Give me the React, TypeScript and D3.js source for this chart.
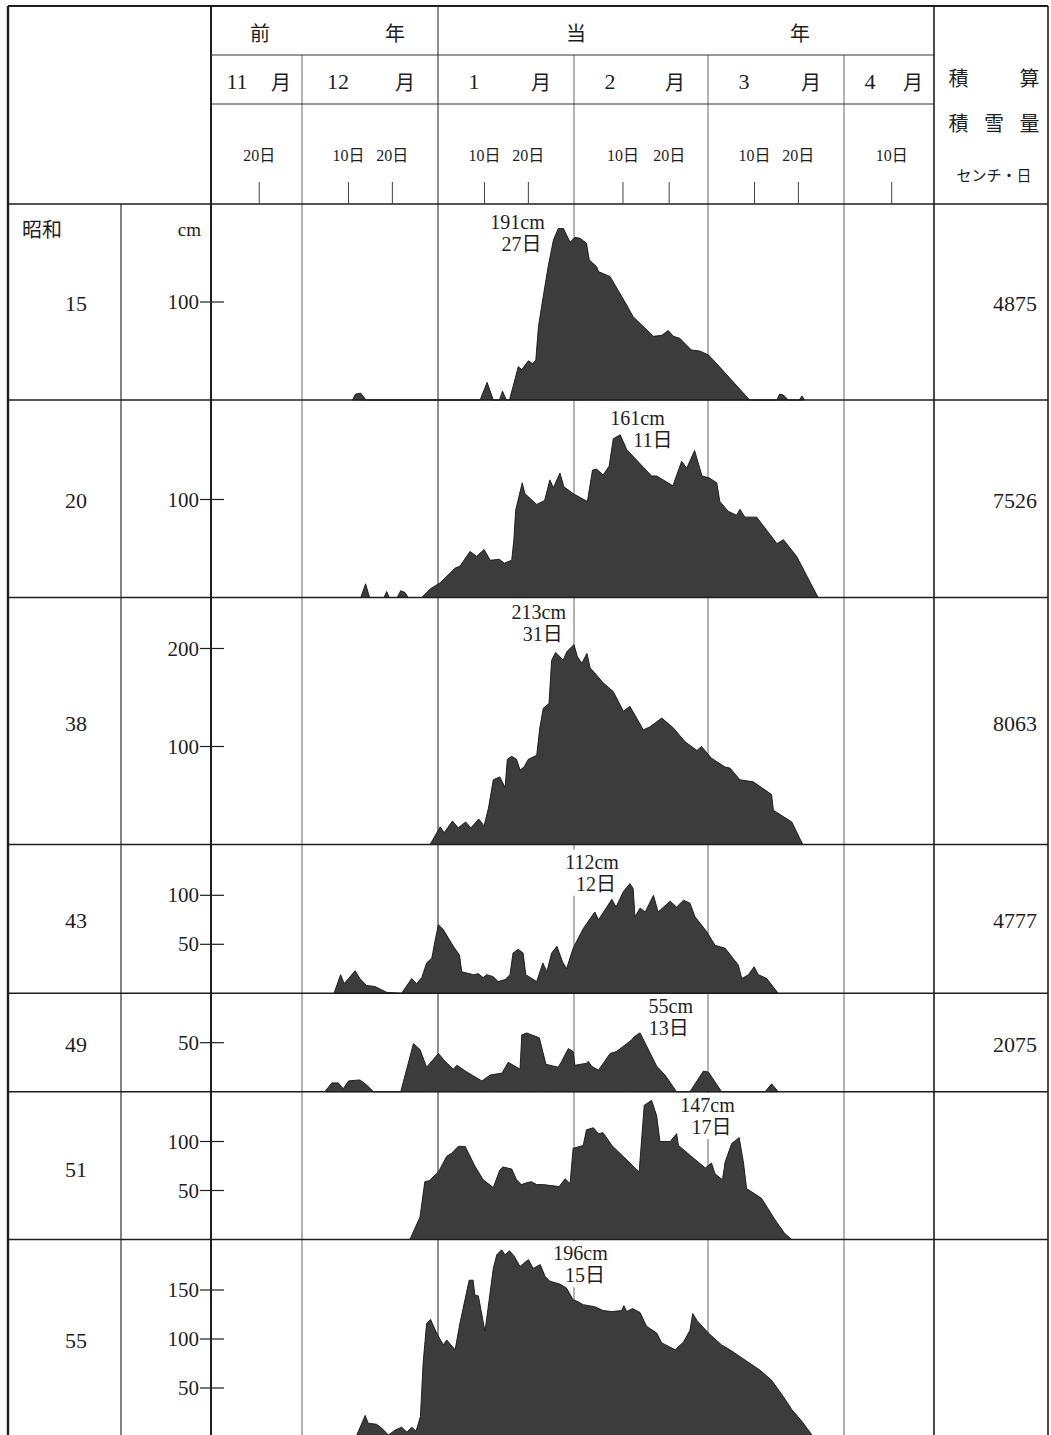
import React from "react";
import * as d3 from "d3";

// ---------- DATA ----------
type Pt = [number, number, number]; // [month, day, snow depth cm]

const showaYears = ["15", "20", "38", "43", "49", "51", "55"];
const totals = ["4875", "7526", "8063", "4777", "2075", "", ""];
const yTicks: number[][] = [[100], [100], [200, 100], [100, 50], [50], [100, 50], [150, 100, 50]];
const peakCm = ["191cm", "161cm", "213cm", "112cm", "55cm", "147cm", "196cm"];
const peakDay = ["27日", "11日", "31日", "12日", "13日", "17日", "15日"];

const monthNums = ["11", "12", "1", "2", "3", "4"];
const dayTicks: [number, number][] = [[11, 20], [12, 10], [12, 20], [1, 10], [1, 20], [2, 10], [2, 20], [3, 10], [3, 20], [4, 10]];
const seasonBreaks: [number, number][] = [[11, 11], [12, 1], [1, 1], [2, 1], [3, 1], [4, 1], [4, 21]];

const s15: Pt[] = [
  [12, 12.5, 0], [12, 13.2, 6], [12, 14.4, 7], [12, 15.6, 0],
  [1, 10.6, 0], [1, 12.2, 18], [1, 13.6, 0],
  [1, 15, 0], [1, 15.7, 9], [1, 16.6, 0],
  [1, 17.3, 0], [1, 19.3, 34], [1, 20.1, 31], [1, 21.6, 40], [1, 22.6, 37], [1, 23.3, 41], [1, 23.9, 75], [1, 24.6, 95],
  [1, 26.1, 136], [1, 27.3, 163], [1, 28.4, 175], [1, 29.6, 175], [1, 31.1, 161], [2, 1.2, 166], [2, 2.3, 165],
  [2, 3.7, 160], [2, 4.3, 143], [2, 5.9, 136], [2, 6.3, 131], [2, 8.8, 126], [2, 12.4, 97], [2, 13.8, 85],
  [2, 18.2, 65], [2, 20, 66], [2, 21.4, 71], [2, 22.5, 65], [2, 23.9, 63], [2, 26.4, 51], [2, 28.2, 50],
  [3, 1.1, 46], [3, 3, 37], [3, 10.5, 0],
  [3, 16.7, 0], [3, 17.3, 6], [3, 18.2, 5], [3, 19.3, 0],
  [3, 21.8, 0], [3, 22.4, 4], [3, 23, 0],
];

const s20: Pt[] = [
  [12, 14.4, 0], [12, 15.5, 14], [12, 16.4, 0],
  [12, 19.7, 0], [12, 20.3, 6], [12, 20.9, 0],
  [12, 22.7, 0], [12, 23.5, 7], [12, 24.5, 5], [12, 25.2, 0],
  [12, 28.3, 0], [12, 30.3, 9], [1, 1.5, 15], [1, 4.9, 30], [1, 6, 32], [1, 8.3, 47], [1, 9.8, 42], [1, 11.5, 49],
  [1, 12.9, 38], [1, 15, 39], [1, 16.1, 35], [1, 17.8, 38], [1, 18.3, 59], [1, 18.7, 89], [1, 20.2, 117], [1, 20.8, 106],
  [1, 23.5, 95], [1, 25.3, 99], [1, 26.5, 120], [1, 27.3, 112], [1, 28.8, 127], [1, 29.7, 113], [1, 31.8, 106],
  [2, 3.9, 98], [2, 5, 130], [2, 5.9, 131], [2, 7.3, 125], [2, 8.6, 134], [2, 9.5, 162], [2, 11, 166], [2, 12.4, 151],
  [2, 17.8, 124], [2, 18.9, 124], [2, 22.4, 114], [2, 24.3, 139], [2, 25.4, 132], [2, 27.1, 150], [2, 28.7, 124],
  [3, 1.3, 122], [3, 3, 117], [3, 3.7, 98], [3, 5.6, 88], [3, 7.5, 84], [3, 8.3, 90], [3, 9.4, 82], [3, 12.1, 82],
  [3, 16.7, 55], [3, 18.2, 59], [3, 21.2, 42], [3, 26.1, 0],
];

const s38: Pt[] = [
  [12, 30.2, 0], [1, 1.5, 18], [1, 2.4, 12], [1, 4.3, 24], [1, 5.6, 17], [1, 7.3, 23], [1, 8.5, 17], [1, 10.3, 26],
  [1, 11.5, 19], [1, 12.5, 37], [1, 13.6, 66], [1, 15.1, 69], [1, 16.3, 58], [1, 16.8, 87], [1, 17.8, 90], [1, 18.9, 87],
  [1, 19.7, 76], [1, 20.6, 79], [1, 21.6, 87], [1, 23.5, 91], [1, 24.2, 119], [1, 25, 139], [1, 26.3, 144],
  [1, 26.9, 188], [1, 27.8, 196], [1, 28.5, 193], [1, 29.5, 188], [1, 30.4, 197], [2, 1, 204], [2, 1.7, 192],
  [2, 2.7, 185], [2, 3.8, 195], [2, 4.5, 180], [2, 5.5, 175], [2, 7.3, 165], [2, 9.5, 156], [2, 11.7, 136],
  [2, 13.1, 141], [2, 16, 117], [2, 17.4, 120], [2, 20, 129], [2, 22.5, 119], [2, 25, 105], [2, 27.6, 96],
  [2, 28.6, 100], [3, 1.8, 88], [3, 4.9, 79], [3, 6, 78], [3, 8.3, 66], [3, 11.3, 64], [3, 15.5, 51], [3, 15.9, 35],
  [3, 20.1, 23], [3, 22.6, 0],
];

const s43: Pt[] = [
  [12, 8.3, 0], [12, 9.8, 19], [12, 10.6, 10], [12, 11.6, 15], [12, 13.1, 23], [12, 14.2, 15], [12, 15.7, 8],
  [12, 17.6, 7], [12, 20.3, 1], [12, 23.3, 0],
  [12, 23.7, 0], [12, 26, 15], [12, 27.1, 10], [12, 28.3, 16], [12, 29.4, 31], [12, 30.6, 36], [12, 31.3, 53],
  [1, 1.1, 70], [1, 2.2, 65], [1, 4.5, 48], [1, 5.9, 39], [1, 6.4, 22], [1, 9.1, 19], [1, 10.2, 20], [1, 11.3, 16],
  [1, 12.1, 19], [1, 13.6, 17], [1, 14.7, 12], [1, 16.3, 14], [1, 17.4, 19], [1, 18.1, 41], [1, 19.3, 45],
  [1, 20.4, 41], [1, 21, 19], [1, 23.5, 12], [1, 24.9, 31], [1, 25.8, 22], [1, 26.9, 41], [1, 28.1, 48],
  [1, 29.4, 32], [1, 30.3, 25], [1, 31.8, 46], [2, 3, 66], [2, 5.5, 83], [2, 6.3, 75], [2, 9.2, 96], [2, 10.1, 88],
  [2, 11.7, 104], [2, 13.1, 112], [2, 13.8, 107], [2, 14.2, 78], [2, 15.3, 87], [2, 16.4, 83], [2, 18.2, 100],
  [2, 19.2, 83], [2, 21.8, 94], [2, 23.2, 88], [2, 24.7, 95], [2, 26.1, 92], [2, 27.2, 78], [2, 29.7, 63],
  [3, 2.6, 49], [3, 4.9, 46], [3, 7.9, 29], [3, 8.7, 15], [3, 10.2, 19], [3, 11.5, 27], [3, 12.5, 19],
  [3, 14.4, 15], [3, 17, 0],
];

const s49: Pt[] = [
  [12, 6.2, 0], [12, 7.8, 9], [12, 9.3, 9], [12, 10.4, 3], [12, 11.6, 11], [12, 14.2, 12], [12, 15.7, 7], [12, 17.3, 0],
  [12, 23.5, 0], [12, 26.4, 49], [12, 27.9, 43], [12, 29.4, 25], [1, 1.1, 39], [1, 2.6, 31], [1, 4.5, 23],
  [1, 5.3, 27], [1, 7.6, 20], [1, 11, 11], [1, 12.9, 17], [1, 15.6, 19], [1, 17, 30], [1, 19.7, 23], [1, 20.1, 58],
  [1, 21.2, 60], [1, 24.1, 55], [1, 25.6, 28], [1, 28.4, 25], [1, 29.2, 31], [1, 30.7, 44], [1, 31.8, 41],
  [2, 1.2, 27], [2, 3.7, 29], [2, 4.1, 31], [2, 4.8, 26], [2, 6.3, 22], [2, 8.8, 39], [2, 10.2, 41], [2, 12.4, 49],
  [2, 13.5, 53], [2, 14, 56], [2, 15.3, 60], [2, 18.9, 26], [2, 20.7, 17], [2, 23.2, 0],
  [2, 26.1, 0], [2, 29, 21], [3, 1.1, 20], [3, 4.1, 0],
  [3, 14, 0], [3, 15.5, 8], [3, 17, 0],
];

const s51: Pt[] = [
  [12, 25.6, 0], [12, 27.9, 23], [12, 29, 59], [12, 30, 60], [12, 30.9, 64], [1, 1.1, 69], [1, 3, 85], [1, 4.1, 88],
  [1, 5.6, 95], [1, 7.2, 95], [1, 9.4, 75], [1, 11.3, 61], [1, 13.6, 53], [1, 15.1, 71], [1, 15.8, 74], [1, 17.8, 72],
  [1, 18.9, 61], [1, 20, 56], [1, 21.2, 58], [1, 22.3, 59], [1, 23.5, 56], [1, 25, 56], [1, 28.6, 54], [1, 30, 62],
  [1, 31.1, 57], [1, 31.8, 93], [2, 3, 96], [2, 3.7, 112], [2, 5.2, 114], [2, 6.3, 108], [2, 7.3, 109], [2, 9.2, 96],
  [2, 15.1, 69], [2, 16.2, 137], [2, 17.8, 142], [2, 18.9, 126], [2, 19.6, 100], [2, 21.8, 100], [2, 23.2, 108],
  [2, 23.6, 96], [2, 29.4, 73], [3, 1.8, 78], [3, 2.6, 67], [3, 4.3, 61], [3, 4.9, 79], [3, 6.4, 98], [3, 8.1, 104],
  [3, 9.1, 78], [3, 9.8, 52], [3, 13.2, 42], [3, 16.3, 20], [3, 18.5, 6], [3, 20.1, 0],
];

const s55: Pt[] = [
  [12, 13, 0], [12, 13.5, 2], [12, 15.4, 22], [12, 16.1, 14], [12, 18, 13], [12, 19.2, 9], [12, 20.7, 2],
  [12, 22.2, 7], [12, 23.7, 10], [12, 24.9, 5], [12, 26, 10], [12, 27, 6], [12, 28, 21], [12, 28.6, 75],
  [12, 29.4, 116], [12, 30.3, 120], [12, 31.7, 106], [1, 2.2, 94], [1, 3, 99], [1, 4.9, 89], [1, 6, 116],
  [1, 8.1, 160], [1, 9, 160], [1, 9.4, 145], [1, 10.2, 144], [1, 11.7, 108], [1, 12.1, 121], [1, 13.6, 172],
  [1, 14.4, 186], [1, 15.5, 191], [1, 16.3, 186], [1, 17.3, 190], [1, 18.3, 185], [1, 19.7, 174], [1, 21.6, 181],
  [1, 22.7, 172], [1, 24.3, 176], [1, 25.4, 164], [1, 26.5, 159], [1, 28.8, 156], [1, 30.3, 152], [1, 31.8, 140],
  [2, 1.9, 138], [2, 3, 135], [2, 5.5, 133], [2, 7.3, 129], [2, 9.2, 128], [2, 11.3, 129], [2, 11.8, 134],
  [2, 12.4, 128], [2, 13.7, 131], [2, 15.3, 127], [2, 16.7, 113], [2, 18.9, 106], [2, 20, 96], [2, 22.9, 89],
  [2, 24.7, 97], [2, 26.1, 109], [2, 26.7, 126], [2, 27.6, 119], [3, 1.1, 106], [3, 4.1, 94], [3, 6, 89],
  [3, 8.3, 82], [3, 12.9, 68], [3, 15.5, 58], [3, 18.2, 41], [3, 20.1, 28], [3, 22.4, 16], [3, 24.7, 2], [3, 25.3, 0],
];

const series: Pt[][] = [s15, s20, s38, s43, s49, s51, s55];

// ---------- LAYOUT ----------
const W = 1051;
const H = 1435;
const LEFT = 8;
const RIGHT = 1048;
const TOP = 6;
const COL_LABEL = 121;
const COL_X = [211, 302, 438, 574, 708, 844, 934];
const HEAD_Y = [55, 104, 204];
const BASELINES = [400, 597.5, 844.5, 993.3, 1091.7, 1239.5, 1437];
const PX_PER_100CM = 98;
const LABEL_Y = [303, 500, 723, 920.5, 1044, 1169, 1340.5];
const PEAK_POS: [number, number, number][] = [
  [517.5, 221.7, 4], [637.5, 418.3, 15.5], [538.8, 611.7, 4], [592, 861.7, 4],
  [670.8, 1006, -2], [707.5, 1105, 4], [580.5, 1253.3, 4.5],
];
const TICK_DAY_OFFSET = 1.6;

const SERIF = "'Liberation Serif', 'Noto Sans CJK JP', serif";
const CJK = "'Noto Sans CJK JP', sans-serif";
const INK = "#1e1e1e";
const FILL = "#3c3c3c";

const dayMs = 864e5;
const dateOf = (m: number, d: number) =>
  new Date(new Date(m >= 11 ? 1999 : 2000, m - 1, 1).getTime() + (d - 1) * dayMs);

export default function App() {
  const x = d3.scaleTime().domain(seasonBreaks.map(([m, d]) => dateOf(m, d))).range(COL_X);
  const rowTops = [HEAD_Y[2], ...BASELINES.slice(0, -1)];

  const ln = (x1: number, y1: number, x2: number, y2: number, w = 1, c = INK, key?: string) => (
    <line key={key} x1={x1} y1={y1} x2={x2} y2={y2} stroke={c} strokeWidth={w} />
  );

  const monthCols = monthNums.map((n, i) => ({ n, l: COL_X[i], r: COL_X[i + 1] }));

  return (
    <svg width={W} height={H} style={{ position: "absolute", left: 0, top: 0, background: "#fff" }}>
      <rect x={0} y={0} width={W} height={H} fill="#fff" />

      {/* month vertical lines in data rows (behind areas) */}
      {[COL_X[1], COL_X[2], COL_X[3], COL_X[4], COL_X[5]].map((cx, i) =>
        ln(cx, HEAD_Y[0], cx, H, i === 1 ? 1.1 : 0.9, i === 1 ? "#333" : "#555", "mv" + i)
      )}

      {/* white backgrounds behind peak labels */}
      {PEAK_POS.map(([cx, cy], i) => (
        <rect key={"pb" + i} x={cx - 29} y={cy - 12} width={60} height={46} fill="#fff" />
      ))}

      {/* snow depth areas */}
      {series.map((s, i) => {
        const base = BASELINES[i];
        const y = d3.scaleLinear().domain([0, 100]).range([base, base - PX_PER_100CM]);
        const area = d3
          .area<Pt>()
          .x((p) => x(dateOf(p[0], p[1])))
          .y0(base)
          .y1((p) => y(p[2]))
          .curve(d3.curveLinear);
        return (
          <path key={"a" + i} d={area(s) || ""} fill={FILL} stroke="#141414" strokeWidth={0.9} strokeLinejoin="round" />
        );
      })}

      {/* table frame */}
      {ln(LEFT, TOP, RIGHT, TOP, 2.2)}
      {ln(LEFT, TOP, LEFT, H, 2.4)}
      {ln(RIGHT, TOP, RIGHT, H, 1.6)}
      {ln(COL_X[0], HEAD_Y[0], COL_X[6], HEAD_Y[0], 1, "#333")}
      {ln(COL_X[0], HEAD_Y[1], COL_X[6], HEAD_Y[1], 1.2, "#333")}
      {ln(LEFT, HEAD_Y[2], RIGHT, HEAD_Y[2], 1.6)}
      {ln(COL_X[0], TOP, COL_X[0], H, 2)}
      {ln(COL_X[6], TOP, COL_X[6], H, 1.6)}
      {ln(COL_X[2], TOP, COL_X[2], HEAD_Y[0], 1.1, "#333")}
      {ln(COL_LABEL, HEAD_Y[2], COL_LABEL, H, 1.1)}
      {BASELINES.slice(0, -1).map((b, i) => ln(LEFT, b, RIGHT, b, 1.5, INK, "rb" + i))}

      {/* header texts */}
      <g fontFamily={CJK} fontSize={20} fill={INK} textAnchor="middle" dominantBaseline="central">
        <text x={COL_X[0] + 49} y={32}>前</text>
        <text x={COL_X[2] - 43} y={32}>年</text>
        <text x={COL_X[2] + 138} y={32}>当</text>
        <text x={COL_X[6] - 134} y={32}>年</text>
        {monthCols.map((c, i) => {
          const wide = c.r - c.l > 100;
          return (
            <g key={"mc" + i}>
              <text x={c.l + (wide ? 36 : 26)} y={81} fontFamily={SERIF} fontSize={22}>{c.n}</text>
              <text x={c.r - (wide ? 33 : 21)} y={81}>月</text>
            </g>
          );
        })}
        <text x={958.5} y={77}>積</text>
        <text x={1029.5} y={77}>算</text>
        <text x={958.5} y={122}>積</text>
        <text x={994} y={122}>雪</text>
        <text x={1029.5} y={122}>量</text>
        <text x={994} y={174} fontSize={15}>センチ・日</text>
      </g>

      {/* day ticks in header */}
      {dayTicks.map(([m, d], i) => {
        const tx = x(dateOf(m, d + TICK_DAY_OFFSET));
        return (
          <g key={"dt" + i}>
            {ln(tx, 182, tx, HEAD_Y[2], 1, "#444")}
            <text x={tx} y={155} fontFamily={SERIF} fontSize={16} textAnchor="middle" dominantBaseline="central" fill={INK}>
              {d}日
            </text>
          </g>
        );
      })}

      {/* row labels */}
      <text x={42} y={228} fontFamily={CJK} fontSize={20} textAnchor="middle" dominantBaseline="central" fill={INK}>昭和</text>
      <text x={201} y={229} fontFamily={SERIF} fontSize={19} textAnchor="end" dominantBaseline="central" fill={INK}>cm</text>

      {showaYears.map((yr, i) => {
        const base = BASELINES[i];
        const y = d3.scaleLinear().domain([0, 100]).range([base, base - PX_PER_100CM]);
        const [cx, cy, dx] = PEAK_POS[i];
        return (
          <g key={"row" + i} fontFamily={SERIF} fill={INK}>
            <text x={76} y={LABEL_Y[i]} fontSize={22} textAnchor="middle" dominantBaseline="central">{yr}</text>
            {totals[i] && (
              <text x={1037} y={LABEL_Y[i]} fontSize={22} textAnchor="end" dominantBaseline="central">{totals[i]}</text>
            )}
            {yTicks[i].map((t) => (
              <g key={"yt" + t}>
                {ln(200, y(t), 224, y(t), 1.2, INK)}
                <text x={199} y={y(t)} fontSize={21} textAnchor="end" dominantBaseline="central">{t}</text>
              </g>
            ))}
            <text x={cx} y={cy} fontSize={20} textAnchor="middle" dominantBaseline="central">{peakCm[i]}</text>
            <text x={cx + dx} y={cy + 22} fontSize={20} textAnchor="middle" dominantBaseline="central">{peakDay[i]}</text>
          </g>
        );
      })}
    </svg>
  );
}
